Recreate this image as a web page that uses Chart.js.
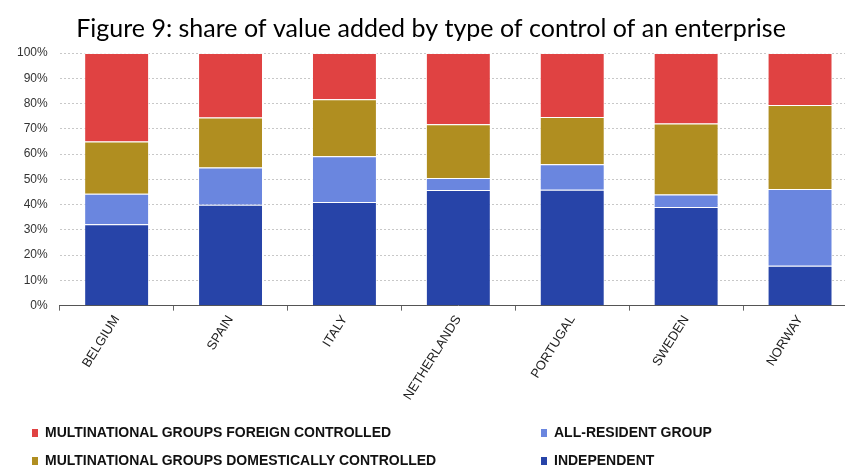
<!DOCTYPE html>
<html>
<head>
<meta charset="utf-8">
<script src="https://cdn.jsdelivr.net/npm/chart.js@4"></script>
<style>
  html, body { margin: 0; padding: 0; background: #fff; overflow: hidden; }
  #wrap { position: relative; width: 860px; height: 470px; }
  #legend { position: absolute; left: 0; top: 0; width: 845px; height: 470px; pointer-events: none; }
  .item { position: absolute; font-family: "Liberation Sans Narrow", "Liberation Sans", Arial, sans-serif;
          font-weight: bold; font-size: 14px; color: #111; white-space: nowrap; line-height: 16px; }
  .item i { display: inline-block; width: 6px; height: 8px; margin-right: 7px; vertical-align: 0px; }
</style>
</head>
<body>
<div id="wrap">
  <canvas id="myChart" width="860" height="470"></canvas>
  <div id="legend"></div>
</div>
<script>
const countries = ['BELGIUM', 'SPAIN', 'ITALY', 'NETHERLANDS', 'PORTUGAL', 'SWEDEN', 'NORWAY'];
const independent = [32.2, 39.9, 41.0, 45.8, 45.9, 39.0, 15.8];
const allResident = [12.1, 14.8, 18.1, 4.7, 10.1, 5.0, 30.4];
const mneDomestic = [20.7, 19.8, 22.6, 21.3, 18.7, 28.1, 33.2];
const mneForeign = [35.0, 25.5, 18.3, 28.2, 25.3, 27.9, 20.6];
const yTicks = [0, 10, 20, 30, 40, 50, 60, 70, 80, 90, 100];

const datasets = [
  { label: 'INDEPENDENT', data: independent, backgroundColor: '#2744a8' },
  { label: 'ALL-RESIDENT GROUP', data: allResident, backgroundColor: '#6a86df' },
  { label: 'MULTINATIONAL GROUPS DOMESTICALLY CONTROLLED', data: mneDomestic, backgroundColor: '#b08e20' },
  { label: 'MULTINATIONAL GROUPS FOREIGN CONTROLLED', data: mneForeign, backgroundColor: '#e04242' },
];
datasets.forEach(d => {
  d.borderColor = 'rgba(255,255,255,0.8)';
  d.borderWidth = 1;
  d.barPercentage = 0.57;
  d.categoryPercentage = 1;
});

const titleCenter = 431;
const ctx = document.getElementById('myChart');

new Chart(ctx, {
  type: 'bar',
  data: { labels: countries, datasets: datasets },
  options: {
    responsive: false,
    animation: false,
    layout: { padding: { top: 0, right: 3, bottom: 65, left: 5 } },
    plugins: {
      legend: { display: false },
      tooltip: { enabled: false },
      title: {
        display: true,
        text: 'Figure 9: share of value added by type of control of an enterprise',
        color: '#000',
        font: { family: 'Lato, "Open Sans", sans-serif', size: 25, weight: 'normal' },
        padding: { top: 14, bottom: 9 },
        align: 'start',
      },
    },
    scales: {
      x: {
        stacked: true,
        grid: { display: true, drawOnChartArea: false, drawTicks: true, tickLength: 5, offset: true, color: '#666' },
        border: { display: true, color: '#555', width: 1 },
        ticks: {
          color: '#222',
          autoSkip: false,
          minRotation: 58,
          maxRotation: 58,
          padding: 2,
          font: { family: '"Liberation Sans", Arial, sans-serif', size: 13 },
        },
      },
      y: {
        stacked: true,
        min: 0,
        max: 100,
        afterBuildTicks: axis => { axis.ticks = yTicks.map(v => ({ value: v })); },
        grid: { color: '#c8c8c8', drawTicks: false },
        border: { display: false, dash: [2, 2] },
        ticks: {
          color: '#333',
          padding: 12,
          font: { family: '"Liberation Sans", Arial, sans-serif', size: 12 },
          callback: v => v + '%',
        },
      },
    },
  },
  plugins: [{
    id: 'centerTitle',
    beforeDraw(chart) {
      const t = chart.titleBlock;
      if (!t) return;
      const c = chart.ctx;
      c.save();
      c.font = '25px Lato, "Open Sans", sans-serif';
      const w = c.measureText(t.options.text).width;
      c.restore();
      t.left = titleCenter - w / 2;
    },
  }],
});

// legend in two columns, foreign/all-resident on first row
const legendOrder = [3, 1, 2, 0];
const spots = [[32, 424], [541, 424], [32, 452], [541, 452]];
const legendEl = document.getElementById('legend');
legendOrder.forEach((di, k) => {
  const d = datasets[di];
  const el = document.createElement('div');
  el.className = 'item';
  el.style.left = spots[k][0] + 'px';
  el.style.top = spots[k][1] + 'px';
  el.innerHTML = '<i style="background:' + d.backgroundColor + '"></i>' + d.label;
  legendEl.appendChild(el);
});
</script>
</body>
</html>
